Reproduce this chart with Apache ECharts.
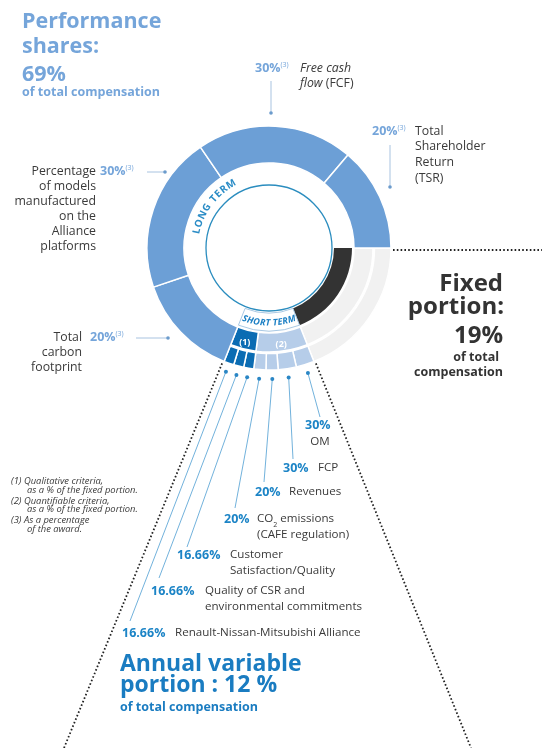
<!DOCTYPE html>
<html>
<head>
<meta charset="utf-8">
<script src="https://cdn.jsdelivr.net/npm/echarts@6/dist/echarts.min.js"></script>
<style>
  html, body { margin: 0; padding: 0; background: #fff; }
  #chart { width: 542px; height: 748px; }
</style>
</head>
<body>
<div id="chart"></div>
<script>
// Split of total compensation (%), clockwise from 3 o'clock
const portionNames = ['Fixed portion', 'Annual variable portion', 'Performance shares'];
const portionShares = [19, 12, 69];

// Performance share criteria (% of the award), clockwise after the variable portion
const longTermNames = ['Total\ncarbon\nfootprint', 'Percentage\nof models\nmanufactured\non the\nAlliance\nplatforms', 'Free cash\nflow (FCF)', 'Total\nShareholder\nReturn\n(TSR)'];
const longTermWeights = [20, 30, 30, 20];

// Annual variable criteria (% of the fixed portion), clockwise after the fixed portion
const quantNames = ['OM', 'FCP', 'Revenues', 'CO₂ emissions\n(CAFE regulation)'];
const quantWeights = [30, 30, 20, 20];
const qualNames = ['Customer\nSatisfaction/Quality', 'Quality of CSR and\nenvironmental commitments', 'Renault-Nissan-Mitsubishi Alliance'];
const qualWeights = [16.66, 16.66, 16.66];

const groupTags = ['(2)', '(1)'];           // quantifiable, qualitative
const footnotes = [
  ['(1) Qualitative criteria,', 'as a % of the fixed portion.'],
  ['(2) Quantifiable criteria,', 'as a % of the fixed portion.'],
  ['(3) As a percentage', 'of the award.']
];

// ---------------------------------------------------------------------------
const sum = a => a.reduce((s, v) => s + v, 0);
const total = sum(portionShares);
const [fixedShare, variableShare, perfShare] = portionShares;
const quantSum = sum(quantWeights), qualSum = sum(qualWeights);
const stScale = variableShare / (quantSum + qualSum);
const ltScale = perfShare / sum(longTermWeights);

const FONT = '"Open Sans", "Noto Sans", sans-serif';
const COL = {
  dark: '#333333', grey: '#f1f1f1', perf: '#6c9fd6', qual: '#0b6cb3', quant: '#b6cde9',
  perfText: '#75a5da', accent: '#1c84c6', label: '#3a3a3a', line: '#72b2dc', dot: '#2a86c5',
  ltLine: '#a8c3e0', ltDot: '#6b9bcc', dotted: '#222'
};
const none = { color: 'rgba(0,0,0,0)', borderWidth: 0 };
const cx = 269, cy = 248;
const R = { core: 63, innerIn: 65, innerOut: 83, midIn: 85, midOut: 104, outIn: 105.5, outOut: 122 };

const toRad = v => v / total * Math.PI * 2;          // cumulative value -> angle (clockwise from east)
const polar = (r, a) => [cx + r * Math.cos(a), cy + r * Math.sin(a)];

const base = {
  type: 'pie', center: [cx, cy], startAngle: 0, clockwise: true, silent: true,
  avoidLabelOverlap: false, animation: false, label: { show: false }, labelLine: { show: false }
};
const seg = (color) => ({ color, borderColor: '#fff', borderWidth: 1.5 });

const series = [
  { ...base, radius: [R.innerIn, R.innerOut], data: [
      { name: portionNames[0], value: fixedShare, itemStyle: { color: COL.dark } },
      { name: portionNames[1], value: variableShare, itemStyle: { color: '#fff', borderColor: '#a9c9e4', borderWidth: 1 } },
      { name: portionNames[2], value: perfShare, itemStyle: none }
  ]},
  { ...base, radius: [R.midIn, R.midOut],
    label: { show: true, position: 'inside', color: '#fff', fontWeight: 'bold', fontSize: 9, fontFamily: FONT,
             formatter: p => p.data.tag || '' },
    data: [
      { name: portionNames[0], value: fixedShare, itemStyle: seg(COL.grey) },
      { name: 'Quantifiable', value: quantSum * stScale, tag: groupTags[0], itemStyle: seg(COL.quant) },
      { name: 'Qualitative', value: qualSum * stScale, tag: groupTags[1], itemStyle: seg(COL.qual) },
      { name: portionNames[2], value: perfShare, itemStyle: none }
  ]},
  { ...base, radius: [R.outIn, R.outOut], data: [
      { name: portionNames[0], value: fixedShare, itemStyle: seg(COL.grey) },
      ...quantWeights.map((w, i) => ({ name: quantNames[i], value: w * stScale, itemStyle: seg(COL.quant) })),
      ...qualWeights.map((w, i) => ({ name: qualNames[i], value: w * stScale, itemStyle: seg(COL.qual) })),
      { name: portionNames[2], value: perfShare, itemStyle: none }
  ]},
  { ...base, radius: [R.midIn, R.outOut], data: [
      { name: portionNames[0], value: fixedShare, itemStyle: none },
      { name: portionNames[1], value: variableShare, itemStyle: none },
      ...longTermWeights.map((w, i) => ({ name: longTermNames[i], value: w * ltScale, itemStyle: seg(COL.perf) }))
  ]}
];

// ---------------------------------------------------------------------------
// Annotations
const g = [];
const txt = (x, y, text, font, fill, align = 'left', extra = {}) =>
  g.push({ type: 'text', x, y, silent: true, z: 10,
           style: Object.assign({ text, font, fill, align, verticalAlign: 'middle' }, extra) });
const lineEl = (x1, y1, x2, y2, style) =>
  g.push({ type: 'line', silent: true, z: 5, shape: { x1, y1, x2, y2 }, style });
const dotEl = (x, y, r, fill) =>
  g.push({ type: 'circle', silent: true, z: 6, shape: { cx: x, cy: y, r }, style: { fill } });
const block = (x, y0, lh, text, font, fill, align) =>
  text.split('\n').forEach((ln, i) => txt(x, y0 + i * lh, ln, font, fill, align));

// inner disc
g.push({ type: 'circle', silent: true, z: 1, shape: { cx, cy, r: R.core },
         style: { fill: '#fff', stroke: '#2b8dbf', lineWidth: 1.3 } });

// text along the ring
const mctx = document.createElement('canvas').getContext('2d');
function arcText(str, r, centerDeg, dir, font, fill, spacing) {
  mctx.font = font;
  const ws = [...str].map(ch => mctx.measureText(ch).width + spacing);
  const span = sum(ws) / r, c = centerDeg * Math.PI / 180;
  let acc = 0;
  [...str].forEach((ch, i) => {
    const off = (acc + ws[i] / 2) / r;
    acc += ws[i];
    const a = dir === 'cw' ? c - span / 2 + off : c + span / 2 - off;
    const [x, y] = polar(r, a);
    const rot = dir === 'cw' ? -Math.atan2(Math.cos(a), -Math.sin(a)) : -Math.atan2(-Math.cos(a), Math.sin(a));
    g.push({ type: 'text', x, y, rotation: rot, silent: true, z: 10,
             style: { text: ch, font, fill, align: 'center', verticalAlign: 'middle' } });
  });
}
arcText('LONG TERM', 74, 217, 'cw', `bold 10px ${FONT}`, '#2a8cc6', 1);
const stMid = (fixedShare + variableShare / 2) / total * 360;
arcText('SHORT TERM', 75, stMid, 'ccw', `italic bold 9px ${FONT}`, '#1b7fc4', 0.1);

// dotted guides
const aFixEnd = toRad(fixedShare), aVarEnd = toRad(fixedShare + variableShare);
const dotted = { stroke: COL.dotted, lineWidth: 1.8, lineDash: [1.6, 2.2] };
lineEl(cx + R.outOut + 2, cy + 2, 542, cy + 2, dotted);
const pL = polar(R.outOut, aVarEnd), pR = polar(R.outOut, aFixEnd);
lineEl(pL[0] - 2, pL[1] + 2, 64, 748, dotted);
lineEl(pR[0] + 2, pR[1] + 2, 471, 748, dotted);

// short-term leaders and labels
const stNames = [...quantNames, ...qualNames];
const stWeights = [...quantWeights, ...qualWeights];
const stLayout = [
  { px: 305, py: 425, tx: 320, ty: 442, end: [320, 417], centered: true },
  { px: 283, py: 468, tx: 318, end: [293, 459] },
  { px: 255, py: 492, tx: 289, end: [264, 482] },
  { px: 224, py: 519, tx: 257, end: [235, 508] },
  { px: 177, py: 555, tx: 230, end: [187, 547] },
  { px: 151, py: 591, tx: 205, end: [159, 578] },
  { px: 122, py: 633, tx: 175, end: [130, 621] }
];
const stFont = `11.6px ${FONT}`;
let acc = fixedShare;
stWeights.forEach((w, i) => {
  const v = w * stScale;
  const [dx, dy] = polar(131, toRad(acc + v / 2));
  acc += v;
  const L = stLayout[i];
  lineEl(dx, dy, L.end[0], L.end[1], { stroke: COL.line, lineWidth: 1 });
  dotEl(dx, dy, 2, COL.dot);
  txt(L.px, L.py, `${w}%`, `bold 12.5px ${FONT}`, COL.accent);
  const name = stNames[i];
  if (L.centered) {
    txt(L.tx, L.ty, name, stFont, COL.label, 'center');
  } else if (name.startsWith('CO₂')) {
    const [l1, l2] = name.split('\n');
    txt(L.tx, L.py, `{t|CO}{s|2}{t|${l1.slice(3)}}`, stFont, COL.label, 'left', {
      rich: { t: { font: stFont, fill: COL.label },
              s: { font: `7px ${FONT}`, fill: COL.label, verticalAlign: 'bottom', padding: [0, 0, -3, 0] } } });
    txt(L.tx, L.py + 16, l2, stFont, COL.label);
  } else {
    block(L.tx, L.py, 15.5, name, stFont, COL.label, 'left');
  }
});

// long-term leaders and labels (carbon, models, FCF, TSR)
const ltLayout = [
  { px: 90, py: 337, tx: 82, align: 'right', line: [136, 338, 168, 338] },
  { px: 100, py: 171, tx: 96, align: 'right', line: [147, 172, 165, 172] },
  { px: 255, py: 68, tx: 300, align: 'left', line: [271, 81, 271, 113] },
  { px: 372, py: 131, tx: 415, align: 'left', line: [390, 145, 390, 187] }
];
const ltFont = `12.3px ${FONT}`;
longTermWeights.forEach((w, i) => {
  const L = ltLayout[i];
  lineEl(L.line[0], L.line[1], L.line[2], L.line[3], { stroke: COL.ltLine, lineWidth: 1 });
  dotEl(L.line[2], L.line[3], 1.8, COL.ltDot);
  txt(L.px, L.py, `{p|${w}%}{s|(3)}`, `bold 12.5px ${FONT}`, COL.perfText, 'left', {
    rich: { p: { font: `bold 12.5px ${FONT}`, fill: COL.perfText },
            s: { font: `7px ${FONT}`, fill: COL.perfText, verticalAlign: 'top' } } });
  const lines = longTermNames[i].split('\n');
  const lh = i === 3 ? 15.7 : 15;
  lines.forEach((ln, k) => {
    const y = L.py + k * lh;
    if (i === 2) {
      // italic measure name, plain abbreviation
      const m = ln.match(/^(.*?)(\s*\(.*\))?$/);
      txt(L.tx, y, `{i|${m[1]}}{n|${m[2] || ''}}`, ltFont, COL.label, 'left', {
        rich: { i: { font: `italic ${ltFont}`, fill: COL.label }, n: { font: ltFont, fill: COL.label } } });
    } else {
      txt(L.tx, y, ln, ltFont, COL.label, L.align);
    }
  });
});

// headline blocks
const pct = v => `${v}%`;
txt(22, 21.5, 'Performance', `bold 21.5px ${FONT}`, COL.perfText);
txt(22, 47, 'shares:', `bold 21.5px ${FONT}`, COL.perfText);
txt(22, 75, pct(perfShare), `bold 21.5px ${FONT}`, COL.perfText);
txt(22, 92, 'of total compensation', `bold 12.5px ${FONT}`, COL.perfText);

txt(503, 284, 'Fixed', `bold 24px ${FONT}`, COL.dark, 'right');
txt(504, 307, 'portion:', `bold 24px ${FONT}`, COL.dark, 'right');
txt(503, 336.5, pct(fixedShare), `bold 24px ${FONT}`, COL.dark, 'right');
txt(499, 357, 'of total', `bold 12.5px ${FONT}`, COL.dark, 'right');
txt(503, 372, 'compensation', `bold 12.5px ${FONT}`, COL.dark, 'right');

txt(120, 664.5, 'Annual variable', `bold 23px ${FONT}`, '#1a7cc1');
txt(120, 685, `portion : ${variableShare} %`, `bold 23px ${FONT}`, '#1a7cc1');
txt(120, 707, 'of total compensation', `bold 12.5px ${FONT}`, '#1a7cc1');

// footnotes
footnotes.forEach((f, i) => {
  const y = 481.5 + i * 19.5;
  txt(11, y, f[0], `italic 9.4px ${FONT}`, COL.label);
  txt(27, y + 8.7, f[1], `italic 9.4px ${FONT}`, COL.label);
});

const chart = echarts.init(document.getElementById('chart'), null, { renderer: 'canvas' });
chart.setOption({ backgroundColor: '#fff', animation: false, series, graphic: g });
</script>
</body>
</html>
